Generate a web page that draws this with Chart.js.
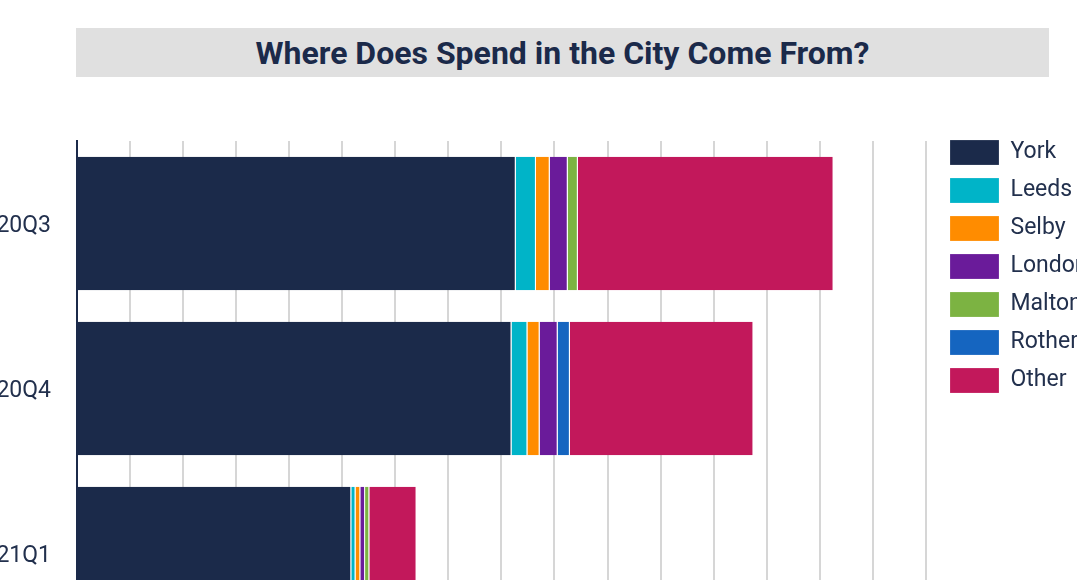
<!DOCTYPE html>
<html>
<head>
<meta charset="utf-8">
<script src="https://cdn.jsdelivr.net/npm/chart.js@4/dist/chart.umd.min.js"></script>
<style>
  html, body { margin: 0; padding: 0; background: #fff; overflow: hidden; width: 1077px; height: 580px; }
  #title {
    position: absolute; left: 76px; top: 28px; width: 973px; height: 49px;
    background: #e0e0e0; color: #1b2a4a;
    font: 700 32px Roboto, sans-serif; line-height: 50px; text-align: center;
  }
  #spendChart { position: absolute; left: -30px; top: 127px; }
</style>
</head>
<body>
<div id="title">Where Does Spend in the City Come From?</div>
<canvas id="spendChart" width="1107" height="509"></canvas>
<script>
const quarters = ["2020Q3", "2020Q4", "2021Q1"];

// spend by origin, one grid step = 1 unit
const york = [8.27, 8.19, 5.17];
const leeds = [0.38, 0.30, 0.08];
const selby = [0.26, 0.23, 0.09];
const london = [0.34, 0.34, 0.09];
const malton = [0.19, null, 0.08];
const rotherham = [null, 0.23, null];
const other = [4.82, 3.46, 0.89];

const seriesNames = ["York", "Leeds", "Selby", "London", "Malton", "Rotherham", "Other"];
const seriesValues = [york, leeds, selby, london, malton, rotherham, other];
const seriesColors = ["#1b2a4a", "#00b4c8", "#ff8c00", "#6a1b9a", "#7cb342", "#1565c0", "#c2185b"];

Chart.defaults.font.family = "Roboto";

const ctx = document.getElementById("spendChart").getContext("2d");

new Chart(ctx, {
  type: "bar",
  data: {
    labels: quarters,
    datasets: seriesNames.map((name, i) => ({
      label: name,
      data: seriesValues[i],
      backgroundColor: seriesColors[i],
      borderColor: "rgba(255,255,255,0.75)",
      borderWidth: { top: 0, bottom: 0, left: 0, right: 1 },
      barPercentage: 0.81,
      categoryPercentage: 1
    }))
  },
  options: {
    indexAxis: "y",
    responsive: false,
    animation: false,
    layout: { padding: 0 },
    plugins: {
      title: { display: false },
      tooltip: { enabled: false },
      legend: {
        position: "right",
        align: "start",
        maxWidth: 140,
        labels: {
          boxWidth: 49,
          boxHeight: 25,
          padding: 13,
          color: "#22304d",
          font: { size: 23 }
        }
      }
    },
    scales: {
      x: {
        position: "top",
        stacked: true,
        min: 0,
        max: 16.21,
        ticks: { display: false, stepSize: 1, includeBounds: false },
        grid: {
          color: c => (c.tick && c.tick.value === 0 ? "transparent" : "#d6d6d6"),
          lineWidth: 2,
          drawTicks: false
        },
        border: { display: false },
        afterFit: s => { s.height = 14; }
      },
      y: {
        stacked: true,
        ticks: { color: "#22304d", font: { size: 23 }, padding: 26, labelOffset: 3 },
        grid: { display: false, drawTicks: false },
        border: { display: true, color: "#1b2a4a", width: 2 },
        afterFit: s => {
          s.width = 107;
          s.paddingTop = 0;
          s.paddingBottom = 0;
        }
      }
    }
  }
});
</script>
</body>
</html>
